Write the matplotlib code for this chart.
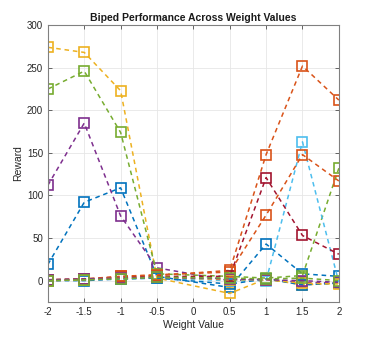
import matplotlib.pyplot as plt
import numpy as np

plt.rcParams['font.family'] = ['Liberation Sans', 'DejaVu Sans']

weights = [-2, -1.5, -1, -0.5, 0.5, 1, 1.5, 2]

# rewards per run (MATLAB default colour order)
run1 = [19, 92, 109, 5, -8, 43, 8, 5]
run2 = [0, 1, 5, 6, 12, 148, 252, 212]
run3 = [274, 268, 223, 3, -15, 2, -5, -3]
run4 = [112, 185, 76, 15, 0, 2, -2, -3]
run5 = [225, 246, 174, 8, 5, 3, 6, 132]
run6 = [0, 1, 2, 3, 0, 0, 163, -2]
run7 = [1, 2, 4, 5, 5, 121, 53, 31]
run8 = [0, 0, 2, 3, -4, 2, -5, -3]
run9 = [1, 2, 5, 7, 10, 77, 148, 117]
run10 = [0, 1, 3, 4, 1, 1, -3, -4]
run11 = [1, 2, 3, 4, 2, 1, 0, -2]
run12 = [0, 1, 2, 4, 3, 2, 3, 0]
runs = [run1, run2, run3, run4, run5, run6, run7, run8, run9, run10, run11, run12]

colors = ['#0072BD', '#D95319', '#EDB120', '#7E2F8E', '#77AC30', '#4DBEEE', '#A2142F']

fig = plt.figure(figsize=(3.74, 3.40), dpi=100)
ax = fig.add_axes([0.128, 0.112, 0.778, 0.814])

for i, r in enumerate(runs):
    c = colors[i % len(colors)]
    ax.plot(weights, r, linestyle=(0, (3, 2.5)), color=c, linewidth=1.1,
            marker='s', markersize=6.5, markerfacecolor='none',
            markeredgecolor=c, markeredgewidth=1.2)

ax.set_xlim(-2, 2)
ax.set_ylim(-25, 300)
ax.set_xticks(np.arange(-2, 2.01, 0.5))
ax.set_xticklabels(['-2', '-1.5', '-1', '-0.5', '0', '0.5', '1', '1.5', '2'])
ax.set_yticks(np.arange(0, 301, 50))
ax.grid(True, color='#e6e6e6', linewidth=0.6)
ax.set_axisbelow(True)

for s in ax.spines.values():
    s.set_color('#808080')
    s.set_linewidth(0.8)
ax.tick_params(direction='in', top=True, right=True, labelsize=7,
               colors='#4d4d4d', length=3, width=0.6)
ax.tick_params(axis='both', labelcolor='#262626')
ax.tick_params(axis='x', pad=4)

ax.set_title('Biped Performance Across Weight Values', fontsize=7.5,
             fontweight='bold', color='#1a1a1a', pad=3)
ax.set_xlabel('Weight Value', fontsize=7.5, color='#262626', labelpad=1.5)
ax.set_ylabel('Reward', fontsize=7.5, color='#262626', labelpad=3)

fig.savefig('out.png', dpi=100)
